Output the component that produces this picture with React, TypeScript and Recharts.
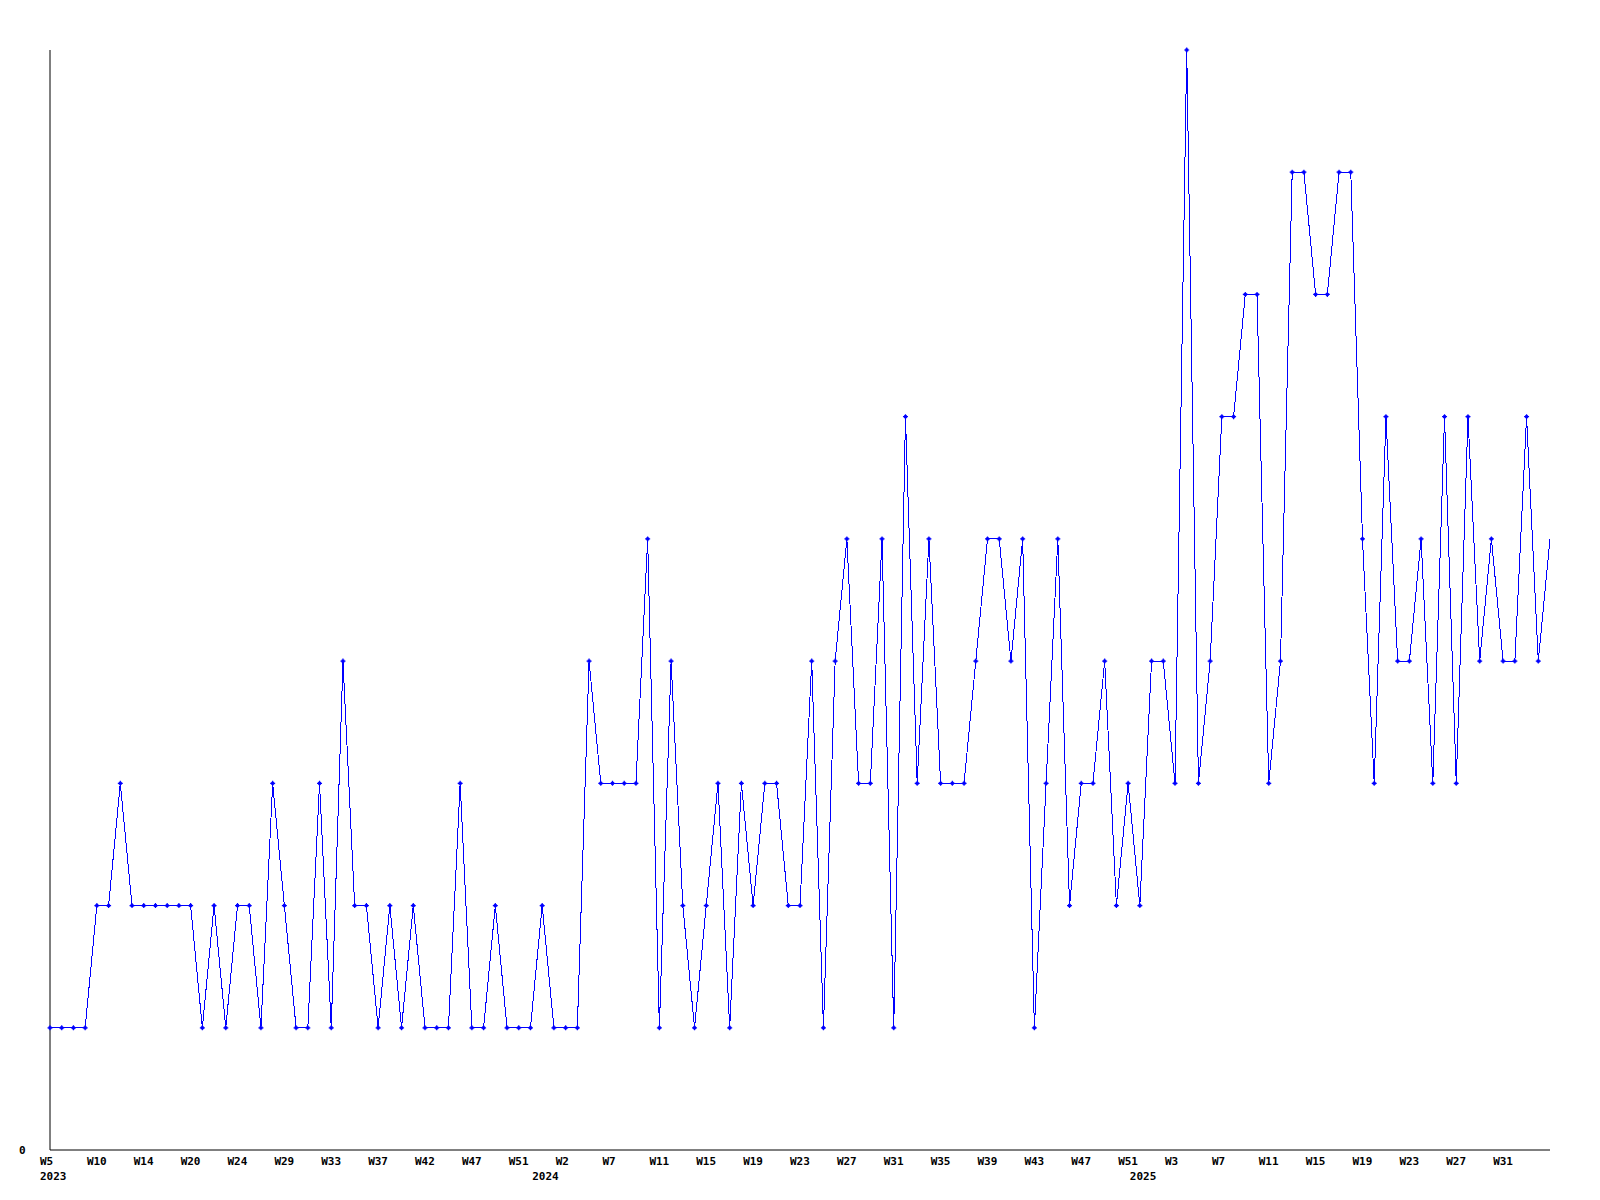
import { LineChart, Line, XAxis, YAxis } from "recharts"

// one value per sample, left to right
const values = [
  1, 1, 1, 1, 2, 2, 3, 2, 2, 2, 2, 2, 2, 1, 2, 1, 2, 2, 1, 3, 2, 1, 1, 3, 1, 4, 2, 2, 1, 2,
  1, 2, 1, 1, 1, 3, 1, 1, 2, 1, 1, 1, 2, 1, 1, 1, 4, 3, 3, 3, 3, 5, 1, 4, 2, 1, 2, 3, 1, 3,
  2, 3, 3, 2, 2, 4, 1, 4, 5, 3, 3, 5, 1, 6, 3, 5, 3, 3, 3, 4, 5, 5, 4, 5, 1, 3, 5, 2, 3, 3,
  4, 2, 3, 2, 4, 4, 3, 9, 3, 4, 6, 6, 7, 7, 3, 4, 8, 8, 7, 7, 8, 8, 5, 3, 6, 4, 4, 5, 3, 6,
  3, 6, 4, 5, 4, 4, 6, 4, 5,
]

// week labels, one every 4 samples
const weekLabels = [
  "W5", "W10", "W14", "W20", "W24", "W29", "W33", "W37", "W42", "W47", "W51",
  "W2", "W7", "W11", "W15", "W19", "W23", "W27", "W31", "W35", "W39", "W43", "W47", "W51",
  "W3", "W7", "W11", "W15", "W19", "W23", "W27", "W31",
]
const weekTicks = weekLabels.map((_, k) => k * 4)

const years = ["2023", "2024", "2025"]
const yearTicks = [0, 42, 93]

const data = values.map((v, i) => ({ i, v }))

const FONT = "'DejaVu Sans Mono', monospace"
const BLUE = "#0000ff"

function WeekTick({ x, y, payload }: any) {
  const k = weekTicks.indexOf(payload.value)
  return (
    <text x={x - 10} y={y + 15} textAnchor="start" fontFamily={FONT} fontWeight="bold" fontSize={11} fill="#000">
      {weekLabels[k]}
    </text>
  )
}

function YearTick({ x, y, payload }: any) {
  const k = yearTicks.indexOf(payload.value)
  return (
    <text x={x - 10} y={y + 16} textAnchor="start" fontFamily={FONT} fontWeight="bold" fontSize={11} fill="#000">
      {years[k]}
    </text>
  )
}

function ZeroTick({ y, payload }: any) {
  return (
    <text x={19} y={y + 4} textAnchor="start" fontFamily={FONT} fontWeight="bold" fontSize={11} fill="#000">
      {payload.value}
    </text>
  )
}

function PlusDot({ cx, cy, index }: any) {
  if (index === values.length - 1) return <g key={index} />
  return (
    <g key={index}>
      <path d={`M${cx - 2.5},${cy}H${cx + 2.5}M${cx},${cy - 2.5}V${cy + 2.5}`} stroke={BLUE} strokeWidth={1.2} />
      <rect x={cx - 1.5} y={cy - 1.5} width={3} height={3} fill={BLUE} />
    </g>
  )
}

export default function App() {
  return (
    <div style={{ position: "absolute", left: 0, top: 0, background: "#fff" }}>
      <style>{".recharts-line-curve{shape-rendering:crispEdges}"}</style>
      <LineChart width={1600} height={1200} data={data} margin={{ top: 50, right: 50, bottom: 0, left: 0 }}>
        <XAxis
          dataKey="i"
          type="number"
          domain={[0, values.length - 1]}
          ticks={weekTicks}
          interval={0}
          tick={<WeekTick />}
          tickLine={false}
          tickSize={0}
          tickMargin={0}
          height={14}
          axisLine={{ stroke: "#000", strokeWidth: 1 }}
        />
        <XAxis
          xAxisId="year"
          dataKey="i"
          type="number"
          domain={[0, values.length - 1]}
          ticks={yearTicks}
          interval={0}
          tick={<YearTick />}
          tickLine={false}
          tickSize={0}
          tickMargin={0}
          height={36}
          axisLine={false}
        />
        <YAxis
          type="number"
          domain={[0, 9]}
          ticks={[0]}
          width={50}
          tick={<ZeroTick />}
          tickLine={false}
          tickSize={0}
          tickMargin={0}
          axisLine={{ stroke: "#000", strokeWidth: 1 }}
        />
        <Line
          dataKey="v"
          type="linear"
          stroke={BLUE}
          strokeWidth={1}
          dot={<PlusDot />}
          activeDot={false}
          isAnimationActive={false}
        />
      </LineChart>
    </div>
  )
}
